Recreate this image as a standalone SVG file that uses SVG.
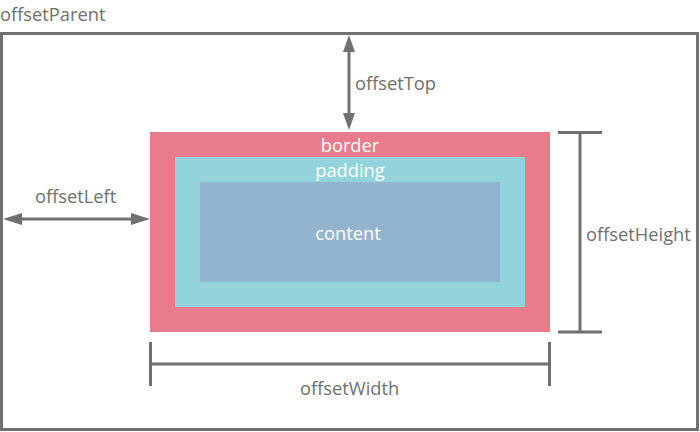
<svg xmlns="http://www.w3.org/2000/svg" width="700" height="432" viewBox="0 0 700 432">
<defs>
<style>
.t{font-family:"Open Sans","Noto Sans","Liberation Sans",sans-serif;font-size:18.3px;fill:#707070}
.w{font-family:"Open Sans","Noto Sans","Liberation Sans",sans-serif;font-size:18.3px;fill:#ffffff;text-anchor:middle}
.ln{stroke:#707070;stroke-width:3;fill:none}
.ah{fill:#707070}
</style>
</defs>
<rect width="700" height="432" fill="#ffffff"/>
<g id="offsetParent">
<rect class="ln" x="1.5" y="33.5" width="696" height="396"/>
<text class="t" x="0" y="21">offsetParent</text>
</g>
<g id="border">
<rect x="150" y="132" width="400" height="200" fill="#E87C8D"/>
<text class="w" x="350" y="152">border</text>
</g>
<g id="padding">
<rect x="175" y="157" width="350" height="150" fill="#93D4DC"/>
<text class="w" x="350" y="177">padding</text>
</g>
<g id="content">
<rect x="200" y="182" width="300" height="100" fill="#93B4CE"/>
<text class="w" x="348" y="240">content</text>
</g>
<g id="connectors">
<line class="ln" x1="349" y1="50" x2="349" y2="115"/>
<polygon class="ah" points="349,35 355,52 343,52"/>
<polygon class="ah" points="349,130 355,113 343,113"/>
<line class="ln" x1="20" y1="219" x2="133" y2="219"/>
<polygon class="ah" points="3,219 22,213 22,225"/>
<polygon class="ah" points="150,219 131,213 131,225"/>
<line class="ln" x1="580" y1="132" x2="580" y2="332"/>
<line class="ln" x1="558" y1="132.5" x2="602" y2="132.5"/>
<line class="ln" x1="558" y1="332" x2="602" y2="332"/>
<line class="ln" x1="150" y1="364" x2="550" y2="364"/>
<line class="ln" x1="150.5" y1="342" x2="150.5" y2="386"/>
<line class="ln" x1="549.5" y1="342" x2="549.5" y2="386"/>
</g>
<g id="labels">
<text class="t" x="355" y="90">offsetTop</text>
<text class="t" x="35" y="203">offsetLeft</text>
<text class="t" x="586" y="241">offsetHeight</text>
<text class="t" x="300" y="395">offsetWidth</text>
</g>
</svg>
